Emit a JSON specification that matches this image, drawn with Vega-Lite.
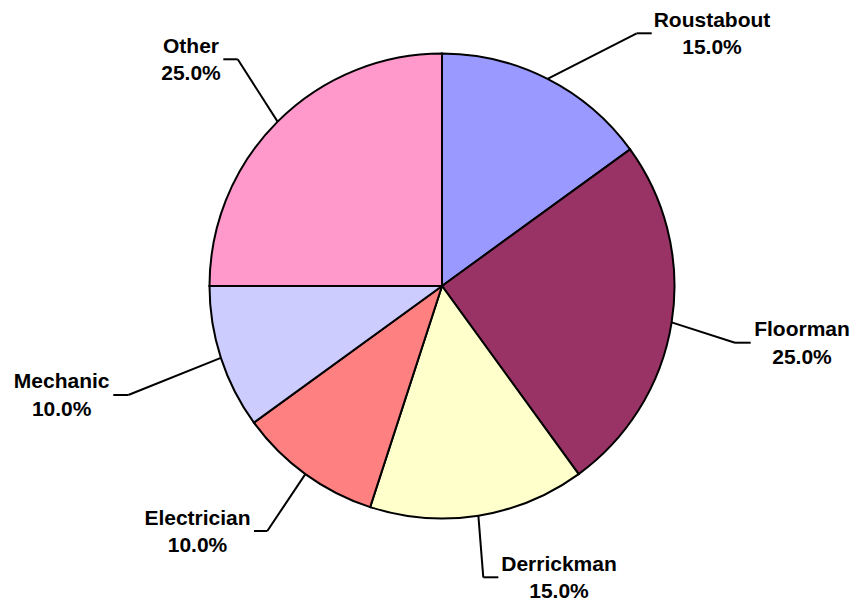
{
  "$schema": "https://vega.github.io/schema/vega-lite/v6.json",
  "width": 828,
  "height": 572,
  "autosize": {"type": "none"},
  "padding": {"left": 28, "top": 0, "right": 0, "bottom": 31},
  "background": "white",
  "config": {"view": {"stroke": null}, "font": "Liberation Sans"},
  "data": {
    "values": [
      {"category": "Roustabout", "share": 0.15, "order": 1, "sx": 45.40, "sy": 89.10, "ex": 83.74, "ey": 108.69, "hx": 90.19, "lx": 116.13},
      {"category": "Floorman", "share": 0.25, "order": 2, "sx": 98.77, "sy": -15.64, "ex": 126.02, "ey": -24.39, "hx": 132.77, "lx": 154.84},
      {"category": "Derrickman", "share": 0.15, "order": 3, "sx": 15.64, "sy": -98.77, "ex": 17.76, "ey": -125.29, "hx": 24.22, "lx": 50.32},
      {"category": "Electrician", "share": 0.10, "order": 4, "sx": -58.78, "sy": -80.90, "ex": -75.14, "ey": -105.38, "hx": -80.86, "lx": -105.16},
      {"category": "Mechanic", "share": 0.10, "order": 5, "sx": -95.11, "sy": -30.90, "ex": -134.92, "ey": -46.88, "hx": -141.38, "lx": -163.57},
      {"category": "Other", "share": 0.25, "order": 6, "sx": -70.71, "sy": 70.71, "ex": -87.87, "ey": 97.51, "hx": -94.06, "lx": -107.96}
    ]
  },
  "layer": [
    {
      "mark": {"type": "arc", "outerRadius": 232.5, "stroke": "black", "strokeWidth": 2},
      "encoding": {
        "theta": {"field": "share", "type": "quantitative", "stack": true},
        "order": {"field": "order", "type": "quantitative"},
        "color": {
          "field": "category",
          "type": "nominal",
          "scale": {
            "domain": ["Roustabout", "Floorman", "Derrickman", "Electrician", "Mechanic", "Other"],
            "range": ["#9999FF", "#993366", "#FFFFCC", "#FF8080", "#CCCCFF", "#FF99CC"]
          },
          "legend": null
        }
      }
    },
    {
      "mark": {"type": "rule", "color": "black", "strokeWidth": 2},
      "encoding": {
        "x": {"field": "sx", "type": "quantitative", "scale": {"domain": [-178.06, 178.06], "nice": false, "zero": false}, "axis": null},
        "y": {"field": "sy", "type": "quantitative", "scale": {"domain": [-123.01, 123.01], "nice": false, "zero": false}, "axis": null},
        "x2": {"field": "ex"},
        "y2": {"field": "ey"}
      }
    },
    {
      "mark": {"type": "rule", "color": "black", "strokeWidth": 2},
      "encoding": {
        "x": {"field": "ex", "type": "quantitative", "scale": {"domain": [-178.06, 178.06], "nice": false, "zero": false}, "axis": null},
        "x2": {"field": "hx"},
        "y": {"field": "ey", "type": "quantitative", "scale": {"domain": [-123.01, 123.01], "nice": false, "zero": false}, "axis": null}
      }
    },
    {
      "mark": {"type": "text", "font": "Liberation Sans", "fontSize": 21, "fontWeight": "bold", "color": "black", "align": "center", "baseline": "alphabetic", "dy": -6.5},
      "encoding": {
        "x": {"field": "lx", "type": "quantitative", "scale": {"domain": [-178.06, 178.06], "nice": false, "zero": false}, "axis": null},
        "y": {"field": "ey", "type": "quantitative", "scale": {"domain": [-123.01, 123.01], "nice": false, "zero": false}, "axis": null},
        "text": {"field": "category", "type": "nominal"}
      }
    },
    {
      "mark": {"type": "text", "font": "Liberation Sans", "fontSize": 21, "fontWeight": "bold", "color": "black", "align": "center", "baseline": "alphabetic", "dy": 21},
      "encoding": {
        "x": {"field": "lx", "type": "quantitative", "scale": {"domain": [-178.06, 178.06], "nice": false, "zero": false}, "axis": null},
        "y": {"field": "ey", "type": "quantitative", "scale": {"domain": [-123.01, 123.01], "nice": false, "zero": false}, "axis": null},
        "text": {"field": "share", "type": "quantitative", "format": ".1%"}
      }
    }
  ]
}
